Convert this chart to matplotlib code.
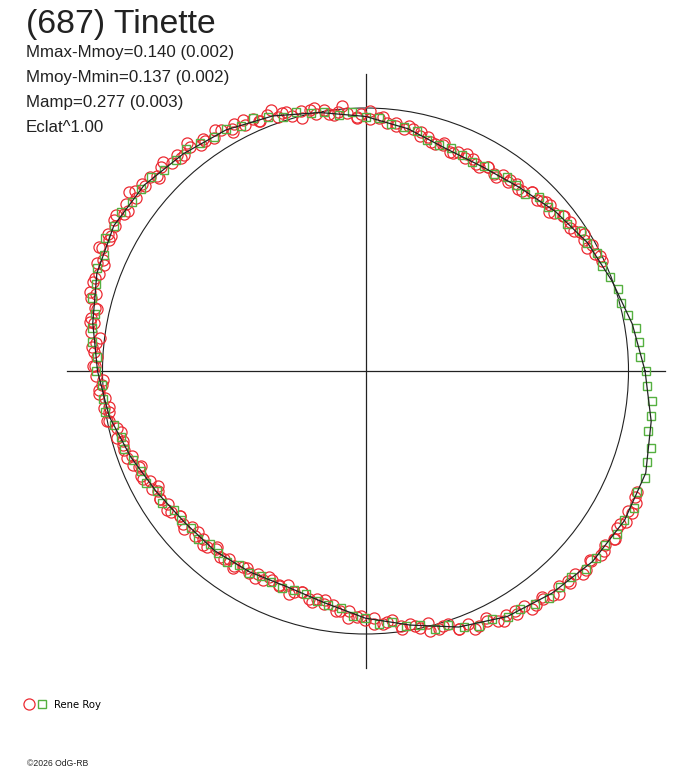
import numpy as np
import matplotlib
matplotlib.use("Agg")
import matplotlib.pyplot as plt
from matplotlib.patches import Circle
from matplotlib.lines import Line2D
from matplotlib.legend_handler import HandlerTuple

# Polar light curve of (687) Tinette: angle = rotational phase, radius = relative brightness
title = "(687) Tinette"
info_lines = ["Mmax-Mmoy=0.140 (0.002)", "Mmoy-Mmin=0.137 (0.002)",
              "Mamp=0.277 (0.003)", "Eclat^1.00"]
observer = "Rene Roy"
credit = "\u00a92026 OdG-RB"

# fitted curve (phase in degrees, relative brightness)
fit_phase = [0, 10, 20, 30, 40, 50, 60, 70, 80, 90, 100, 110, 120, 130, 140, 150, 160, 170,
             180, 190, 200, 210, 220, 230, 240, 250, 260, 270, 280, 290, 300, 310, 320,
             330, 340, 350]
fit_flux = [1.063, 1.030, 0.998, 0.975, 0.943, 0.911, 0.895, 0.899, 0.935, 0.968,
            0.998, 1.032, 1.059, 1.078, 1.099, 1.105, 1.087, 1.053, 1.019, 0.990,
            0.951, 0.918, 0.897, 0.892, 0.882, 0.873, 0.895, 0.940, 0.981, 1.036,
            1.078, 1.103, 1.127, 1.137, 1.134, 1.103]

# first observer series (red circles), session A
red_phase_a = [25, 27, 29, 31, 33, 34, 36, 38, 40, 42, 43, 45, 47, 49, 51, 53, 55, 57, 59,
               61, 63, 65, 67, 69, 71, 73, 75, 77, 79, 81, 83, 85, 87, 89,
               91, 92, 94, 96, 97, 99, 101, 102, 104, 106, 108, 109, 111, 113, 114, 116,
               118, 119, 121, 123, 125, 126, 128, 130, 131, 133, 135, 137, 138, 140, 142,
               143, 145, 147, 148, 150, 152, 153, 155, 157, 158, 160, 162, 164, 165, 167,
               169, 170, 172, 174, 175, 177, 179,
               181, 183, 184, 186, 188, 189, 191, 193, 195, 196, 198, 200, 202, 203, 205,
               207, 209, 210, 212, 214, 216, 218, 220, 222, 224, 226, 228, 230, 232, 234,
               236, 238, 240, 242, 244, 246, 248, 250, 252, 254, 256, 258, 260, 262, 264,
               266, 268,
               270, 272, 274, 276, 278, 280, 282, 284, 286, 288, 290, 292, 294, 296, 298,
               300, 302, 304, 306, 308, 310, 312, 314, 316, 318, 320, 322, 324, 326, 328,
               330, 332, 334, 336]
red_flux_a = [0.992, 0.978, 0.985, 0.968, 0.972, 0.955, 0.963, 0.958, 0.936, 0.946, 0.940,
              0.921, 0.930, 0.908, 0.917, 0.900, 0.911, 0.894, 0.905,
              0.889, 0.903, 0.892, 0.905, 0.893, 0.910, 0.904, 0.922, 0.918, 0.938, 0.930,
              0.950, 0.946, 0.963, 0.960,
              0.978, 0.966, 0.985, 0.992, 0.980, 1.003, 0.994, 1.013, 1.018, 1.010, 1.033,
              1.022, 1.044, 1.034, 1.050, 1.042, 1.062, 1.050, 1.070, 1.058, 1.078, 1.064,
              1.083, 1.071, 1.090, 1.079, 1.097, 1.086, 1.104, 1.092, 1.112, 1.095, 1.110,
              1.097, 1.118, 1.100, 1.109, 1.093, 1.104, 1.085, 1.100, 1.080, 1.089, 1.066,
              1.079, 1.057, 1.064, 1.047, 1.053, 1.032, 1.045, 1.023, 1.028,
              1.024, 1.004, 1.015, 0.995, 1.003, 0.988, 0.993, 0.971, 0.979, 0.960, 0.966,
              0.945, 0.952, 0.935, 0.942, 0.921, 0.928, 0.912, 0.921, 0.904, 0.913, 0.895,
              0.904, 0.889, 0.901, 0.887, 0.900, 0.885, 0.897, 0.882, 0.893, 0.878, 0.889,
              0.874, 0.886, 0.871, 0.882, 0.867, 0.883, 0.876, 0.892, 0.885, 0.901, 0.898,
              0.919, 0.915, 0.937,
              0.946, 0.941, 0.963, 0.952, 0.979, 0.975, 0.998, 0.987, 1.020, 1.010, 1.042,
              1.037, 1.060, 1.046, 1.076, 1.071, 1.090, 1.080, 1.100, 1.090, 1.110, 1.100,
              1.121, 1.110, 1.130, 1.121, 1.137, 1.125, 1.140, 1.128, 1.145, 1.131, 1.143,
              1.130]

# red circles, session B
red_phase_b = [26, 29, 32, 35, 38, 41, 44, 47, 50, 53, 56, 59, 62, 65, 68, 71, 74, 77, 80,
               83, 86, 89, 92, 95, 98, 101, 104, 107, 110, 113, 116, 119, 122, 125, 128,
               131, 134, 137, 140, 143, 146, 149, 152, 155, 158, 161, 164, 167, 170, 173,
               176, 179, 182, 185, 188, 191, 194, 197, 200, 203, 206, 209, 212, 215, 218,
               221, 224, 227, 230, 233, 236, 239, 242, 245, 248, 251, 254, 257, 260, 263,
               266, 269, 272, 275, 278, 281, 284, 287, 290, 293, 296, 299, 302, 305, 308,
               311, 314, 317, 320, 323, 326, 329, 332, 335]
red_flux_b = [0.994, 0.965, 0.980, 0.950, 0.955, 0.923, 0.931, 0.930, 0.901, 0.911, 0.888,
              0.905, 0.893, 0.912, 0.892, 0.917, 0.904, 0.933, 0.947, 0.939, 0.970,
              0.988, 0.962, 1.011, 0.987, 1.019, 0.993, 1.031, 1.056, 1.031, 1.061, 1.041,
              1.081, 1.067, 1.100, 1.072, 1.107, 1.075, 1.107, 1.128, 1.089, 1.117, 1.094,
              1.116, 1.073, 1.089, 1.089, 1.049, 1.065, 1.018, 1.036, 1.036,
              0.999, 1.018, 0.985, 1.002, 0.957, 0.965, 0.966, 0.928, 0.941, 0.901, 0.921,
              0.921, 0.893, 0.915, 0.883, 0.904, 0.876, 0.895, 0.902, 0.873, 0.893, 0.864,
              0.879, 0.895, 0.873, 0.901, 0.884, 0.921, 0.942, 0.933,
              0.962, 0.957, 0.990, 0.987, 1.018, 1.014, 1.044, 1.065, 1.058, 1.086, 1.076,
              1.104, 1.098, 1.121, 1.109, 1.131, 1.116, 1.137, 1.144, 1.129, 1.147, 1.131]

# second series (green squares)
green_phase = [0, 3, 6, 9, 12, 15, 18, 21, 24, 27, 30, 33, 36, 39, 42, 45, 48, 51, 54, 57,
               60, 63, 66, 69, 72, 75, 78, 81, 84, 87, 90, 93, 96, 99, 102, 105, 108, 111,
               114, 117, 120, 123, 126, 129, 132, 135, 138, 141, 144, 147, 150, 153, 156,
               159, 162, 165, 168, 171, 174, 177, 180, 183, 186, 189, 192, 195, 198, 201,
               204, 207, 210, 213, 216, 219, 222, 225, 228, 231, 234, 237, 240, 243, 246,
               249, 252, 255, 258, 261, 264, 267, 270, 273, 276, 279, 282, 285, 288, 291,
               294, 297, 300, 303, 306, 309, 312, 315, 318, 321, 324, 327, 330, 333, 336,
               339, 342, 345, 348, 351, 354, 357]
green_flux = [1.067, 1.047, 1.045, 1.042, 1.021, 1.006, 1.009, 0.996, 0.984, 0.989,
              0.973, 0.976, 0.949, 0.949, 0.933, 0.933, 0.908, 0.910, 0.913, 0.895,
              0.899, 0.890, 0.900, 0.908, 0.903, 0.909, 0.933, 0.938, 0.943, 0.965,
              0.966, 0.988, 0.979, 0.998, 1.001, 1.021, 1.016, 1.036, 1.051, 1.046,
              1.063, 1.059, 1.073, 1.085, 1.079, 1.081, 1.100, 1.099, 1.096, 1.110,
              1.103, 1.111, 1.087, 1.092, 1.076, 1.076, 1.051, 1.051, 1.047, 1.024,
              1.023, 1.005, 1.004, 1.002, 0.979, 0.963, 0.964, 0.948, 0.933, 0.935,
              0.916, 0.923, 0.899, 0.902, 0.892, 0.901, 0.884, 0.892, 0.896, 0.880,
              0.886, 0.873, 0.879, 0.883, 0.874, 0.876, 0.896, 0.900, 0.908, 0.934,
              0.938, 0.963, 0.958, 0.980, 0.988, 1.015, 1.016, 1.041, 1.061, 1.060,
              1.082, 1.080, 1.095, 1.110, 1.105, 1.107, 1.127, 1.128, 1.126, 1.141,
              1.135, 1.147, 1.129, 1.138, 1.124, 1.125, 1.100, 1.100, 1.097, 1.071]

RED = "#EC2A32"
GREEN = "#55B040"
INK = "#222222"
W, H = 688, 768
CX, CY, R = 365.5, 371.0, 263.0  # pixel centre and radius of the mean-brightness circle


def to_xy(phase, flux):
    a = np.radians(np.asarray(phase, dtype=float))
    f = np.asarray(flux, dtype=float)
    return f * np.cos(a), f * np.sin(a)


fig = plt.figure(figsize=(W / 100, H / 100), dpi=100)
ax = fig.add_axes([0, 0, 1, 1])
ax.set_xlim(-CX / R, (W - CX) / R)
ax.set_ylim(-(H - CY) / R, CY / R)
ax.axis("off")

# axes cross and reference circle
ax.plot([-1.135, 1.138], [0, 0], color=INK, lw=0.9, zorder=1)
ax.plot([0, 0], [-1.13, 1.13], color=INK, lw=0.9, zorder=1)
ax.add_patch(Circle((0, 0), 1.0, fill=False, color=INK, lw=0.8, zorder=1))

red_style = dict(marker="o", ms=8, mfc="none", mec=RED, mew=0.9, ls="none")
green_style = dict(marker="s", ms=6.3, mfc="none", mec=GREEN, mew=1.0, ls="none")

ax.plot(*to_xy(red_phase_a, red_flux_a), zorder=2, **red_style)
ax.plot(*to_xy(red_phase_b, red_flux_b), zorder=2, **red_style)
ax.plot(*to_xy(green_phase, green_flux), zorder=3, **green_style)

fx, fy = to_xy(fit_phase + fit_phase[:1], fit_flux + fit_flux[:1])
ax.plot(fx, fy, color=INK, lw=0.9, zorder=4)

# texts
fig.text(26 / W, 1 - 33 / H, title, fontsize=24.3, family="Liberation Sans",
         color=INK, va="baseline")
for i, line in enumerate(info_lines):
    fig.text(26 / W, 1 - (57 + 25 * i) / H, line, fontsize=12.2,
             family="Liberation Sans", color=INK, va="baseline")
fig.text(27 / W, 1 - 766 / H, credit, fontsize=6.2, family="Liberation Sans",
         color=INK, va="baseline")

# legend
h_red = Line2D([], [], **red_style)
h_green = Line2D([], [], **green_style)
ax.legend(handles=[(h_red, h_green)], labels=[observer],
          handler_map={tuple: HandlerTuple(ndivide=None, pad=0.3)},
          frameon=False, loc="center left", bbox_to_anchor=(24 / W, 1 - 705 / H),
          bbox_transform=fig.transFigure, handlelength=2.3, handletextpad=0.7,
          borderpad=0, borderaxespad=0, prop={"family": "DejaVu Sans", "size": 7.3})

fig.savefig("out.png", dpi=100)
